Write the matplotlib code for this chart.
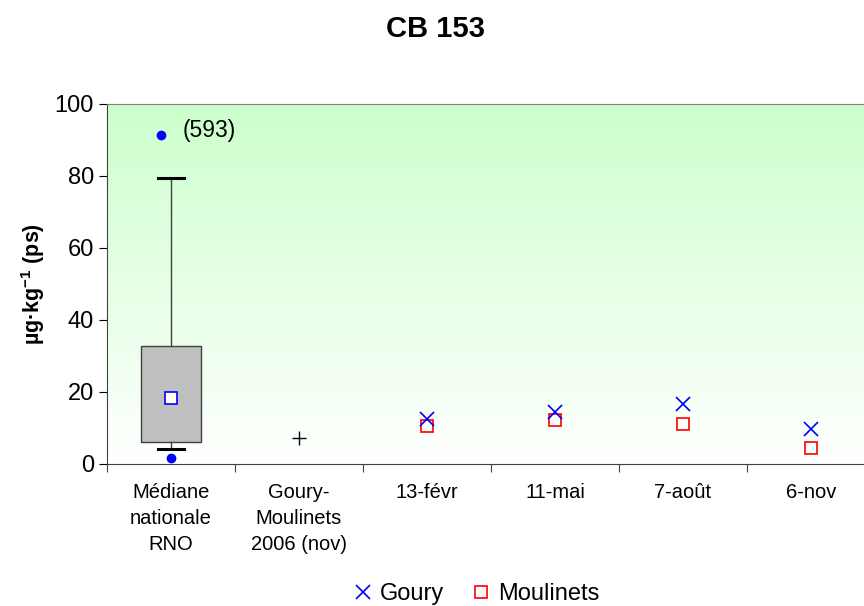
import numpy as np
import matplotlib.pyplot as plt
from matplotlib.lines import Line2D

plt.rcParams['font.family'] = ['Liberation Sans', 'DejaVu Sans']
plt.rcParams['mathtext.fontset'] = 'custom'
plt.rcParams['mathtext.rm'] = 'Liberation Sans'
plt.rcParams['mathtext.bf'] = 'Liberation Sans:bold'

categories = ['Médiane\nnationale\nRNO', 'Goury-\nMoulinets\n2006 (nov)',
              '13-févr', '11-mai', '7-août', '6-nov']

# national distribution (box plot) in first column
box_q1, box_q3 = 6.2, 32.8
whisk_lo, whisk_hi = 4.2, 79.4
box_mean = 18.2
outlier_lo = 1.6
outlier_hi = 91.4
outlier_hi_label = '(593)'

ref_2006 = 7.2

goury = [12.4, 14.4, 16.7, 9.6]
moulinets = [10.6, 12.1, 11.0, 4.4]

fig = plt.figure(figsize=(8.64, 6.06), dpi=100)
ax = fig.add_axes([107 / 864, 1 - 464 / 606, 768 / 864, 360 / 606])

# green-to-white background
grad = np.linspace(0, 1, 256).reshape(-1, 1)
top = np.array([0.80, 1.0, 0.80])
bot = np.array([1.0, 1.0, 1.0])
img = bot + (top - bot) * grad[..., None]
ax.imshow(img, extent=[0, 1, 0, 1], transform=ax.transAxes, origin='lower',
          aspect='auto', zorder=0)

x = np.arange(len(categories)) + 0.5

stats = [dict(med=box_mean, q1=box_q1, q3=box_q3, whislo=whisk_lo, whishi=whisk_hi,
              fliers=[])]
ax.bxp(stats, positions=[x[0]], widths=0.47, showfliers=False, patch_artist=True,
       boxprops=dict(facecolor='#c0c0c0', edgecolor='#404040', linewidth=1),
       whiskerprops=dict(color='#404040', linewidth=1),
       capprops=dict(color='black', linewidth=2.2),
       medianprops=dict(linewidth=0), capwidths=0.21, zorder=3)
ax.plot(x[0], box_mean, 's', ms=9, mfc='white', mec='blue', mew=1.2, zorder=4)
ax.plot(x[0], outlier_lo, 'o', ms=6, color='blue', zorder=4)
ax.plot(x[0] - 0.08, outlier_hi, 'o', ms=6, color='blue', zorder=4)
ax.text(x[0] + 0.09, outlier_hi + 1.3, outlier_hi_label, fontsize=16.5,
        va='center', ha='left')

ax.plot(x[1], ref_2006, '+', ms=10, color='black', mew=1, zorder=4)

ax.plot(x[2:], goury, 'x', ms=10, color='blue', mew=1.2, ls='none', zorder=5)
ax.plot(x[2:], moulinets, 's', ms=9, mfc='none', mec='red', mew=1.2, ls='none',
        zorder=4)

ax.set_xlim(0, len(categories))
ax.set_ylim(0, 100)
ax.set_yticks(range(0, 101, 20))
ax.set_xticks(range(len(categories) + 1))
ax.set_xticklabels([])
ax.set_xticks(x, minor=True)
ax.set_xticklabels(categories, minor=True, fontsize=14.5, linespacing=1.45)
ax.tick_params(axis='x', which='minor', length=0, pad=14)
ax.tick_params(axis='x', which='major', length=6, color='#404040', direction='out')
ax.tick_params(axis='y', labelsize=17, length=6, direction='out')

ax.spines['right'].set_visible(False)
ax.spines['top'].set_color('#808080')
ax.spines['left'].set_color('#404040')
ax.spines['bottom'].set_color('#404040')

ax.set_ylabel(r'µg·kg$^{\mathbf{-1}}$ (ps)', fontsize=15.5, fontweight='bold',
              labelpad=5)

fig.text(435 / 864, 1 - 29 / 606, 'CB 153', fontsize=21, fontweight='bold',
         ha='center', va='center')

handles = [Line2D([], [], marker='x', color='blue', ls='none', ms=10, mew=1.2),
           Line2D([], [], marker='s', mfc='none', mec='red', ls='none', ms=9, mew=1.2)]
fig.legend(handles, ['Goury', 'Moulinets'], loc='center',
           bbox_to_anchor=(474 / 864, 1 - 594 / 606), ncol=2, frameon=False,
           fontsize=17, handletextpad=0.1, columnspacing=1.0, handlelength=1.2)

fig.savefig('out.png', dpi=100)
